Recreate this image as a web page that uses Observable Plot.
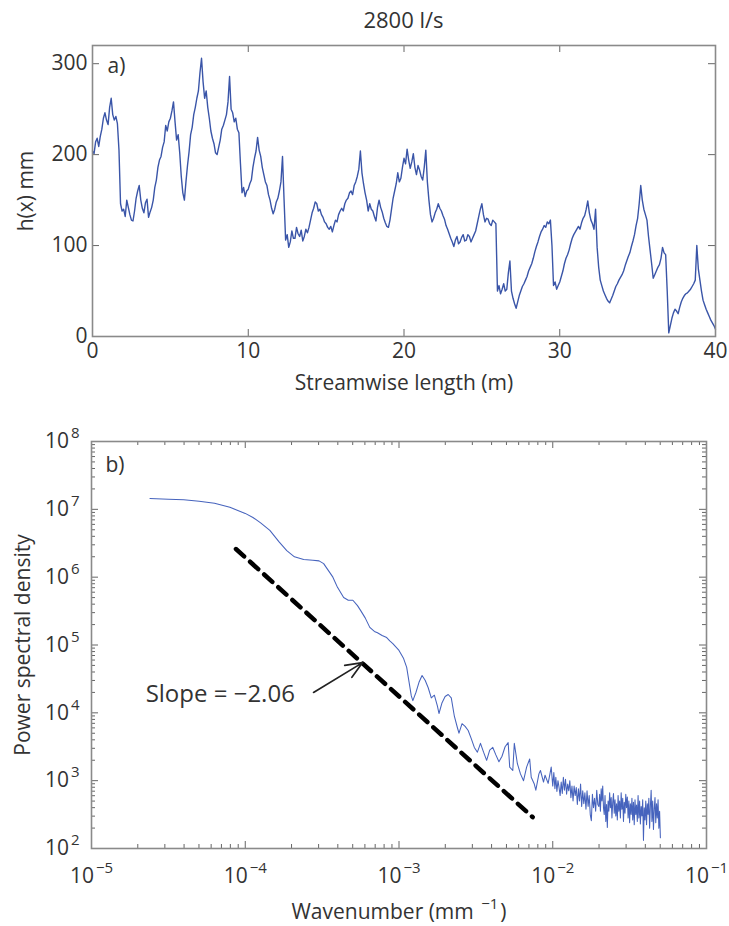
<!DOCTYPE html>
<html>
<head>
<meta charset="utf-8">
<script src="https://cdn.jsdelivr.net/npm/d3@7"></script>
<script src="https://cdn.jsdelivr.net/npm/@observablehq/plot@0.6"></script>
<style>
  html, body { margin: 0; padding: 0; background: #fff; }
  #wrap { position: relative; width: 729px; height: 926px; font-family: "Open Sans", sans-serif; color: #333; overflow: hidden; }
  #title { position: absolute; top: 4px; left: 92px; width: 623px; text-align: center; font-size: 22px; line-height: 30px; }
  #wrap svg { position: absolute; left: 0; }
</style>
</head>
<body>
<div id="wrap">
  <div id="title"></div>
</div>
<script>
// ---------- Panel a) : bed profile h(x) ----------
const titleText = "2800 l/s";
const profileDist = [
  0.0,0.1,0.2,0.3,0.4,0.5,0.6,0.7,0.8,0.9,1.0,1.1,1.2,1.3,1.4,1.5,1.6,1.7,1.8,1.9,
  2.0,2.1,2.2,2.3,2.4,2.5,2.6,2.7,2.8,2.9,3.0,3.1,3.2,3.3,3.4,3.5,3.6,3.7,3.8,3.9,
  4.0,4.1,4.2,4.3,4.4,4.5,4.6,4.7,4.8,4.9,5.0,5.1,5.2,5.3,5.4,5.5,5.6,5.7,5.8,5.9,
  6.0,6.1,6.2,6.3,6.4,6.5,6.6,6.7,6.8,6.9,7.0,7.1,7.2,7.3,7.4,7.5,7.6,7.7,7.8,7.9,
  8.0,8.1,8.2,8.3,8.4,8.5,8.6,8.7,8.8,8.9,9.0,9.1,9.2,9.3,9.4,9.5,9.6,9.7,9.8,9.9,
  10.0,10.1,10.2,10.3,10.4,10.5,10.6,10.7,10.8,10.9,11.0,11.1,11.2,11.3,11.4,11.5,11.6,11.7,11.8,11.9,
  12.0,12.1,12.2,12.3,12.4,12.5,12.6,12.7,12.8,12.9,13.0,13.1,13.2,13.3,13.4,13.5,13.6,13.7,13.8,13.9,
  14.0,14.1,14.2,14.3,14.4,14.5,14.6,14.7,14.8,14.9,15.0,15.1,15.2,15.3,15.4,15.5,15.6,15.7,15.8,15.9,
  16.0,16.1,16.2,16.3,16.4,16.5,16.6,16.7,16.8,16.9,17.0,17.1,17.2,17.3,17.4,17.5,17.6,17.7,17.8,17.9,
  18.0,18.1,18.2,18.3,18.4,18.5,18.6,18.7,18.8,18.9,19.0,19.1,19.2,19.3,19.4,19.5,19.6,19.7,19.8,19.9,
  20.0,20.1,20.2,20.3,20.4,20.5,20.6,20.7,20.8,20.9,21.0,21.1,21.2,21.3,21.4,21.5,21.6,21.7,21.8,21.9,
  22.0,22.1,22.2,22.3,22.4,22.5,22.6,22.7,22.8,22.9,23.0,23.1,23.2,23.3,23.4,23.5,23.6,23.7,23.8,23.9,
  24.0,24.1,24.2,24.3,24.4,24.5,24.6,24.7,24.8,24.9,25.0,25.1,25.2,25.3,25.4,25.5,25.6,25.7,25.8,25.9,
  26.0,26.1,26.2,26.3,26.4,26.5,26.6,26.7,26.8,26.9,27.0,27.1,27.2,27.3,27.4,27.5,27.6,27.7,27.8,27.9,
  28.0,28.1,28.2,28.3,28.4,28.5,28.6,28.7,28.8,28.9,29.0,29.1,29.2,29.3,29.4,29.5,29.6,29.7,29.8,29.9,
  30.0,30.1,30.2,30.3,30.4,30.5,30.6,30.7,30.8,30.9,31.0,31.1,31.2,31.3,31.4,31.5,31.6,31.7,31.8,31.9,
  32.0,32.1,32.2,32.3,32.4,32.5,32.6,32.7,32.8,32.9,33.0,33.1,33.2,33.3,33.4,33.5,33.6,33.7,33.8,33.9,
  34.0,34.1,34.2,34.3,34.4,34.5,34.6,34.7,34.8,34.9,35.0,35.1,35.2,35.3,35.4,35.5,35.6,35.7,35.8,35.9,
  36.0,36.1,36.2,36.3,36.4,36.5,36.6,36.7,36.8,36.9,37.0,37.1,37.2,37.3,37.4,37.5,37.6,37.7,37.8,37.9,
  38.0,38.1,38.2,38.3,38.4,38.5,38.6,38.7,38.8,38.9,39.0,39.1,39.2,39.3,39.4,39.5,39.6,39.7,39.8,39.9,
  40.0
];
const profileHeight = [
  204,201,214,218,209,220,228,240,246,238,233,252,262,244,238,242,234,205,146,138,
  140,132,150,142,134,128,127,138,152,160,166,150,141,136,147,151,131,137,142,150,
  164,172,186,194,198,208,214,232,226,236,240,248,258,236,216,222,202,176,158,150,
  170,188,203,222,230,244,252,262,270,290,306,280,262,270,252,240,226,218,212,202,
  200,208,216,228,232,238,244,258,286,250,246,236,240,228,224,190,158,164,154,160,
  162,168,172,186,196,204,219,205,198,186,178,170,166,156,150,141,135,140,148,152,
  160,170,198,150,106,112,98,104,116,108,108,120,113,110,117,105,110,118,114,120,
  128,136,141,148,146,138,140,134,131,126,124,120,118,121,115,122,128,126,134,138,
  141,138,146,150,152,158,160,156,166,170,176,184,204,180,168,158,150,138,146,140,
  138,132,127,142,150,142,137,130,125,121,120,128,140,152,160,168,180,170,174,186,
  196,190,206,194,185,192,201,186,178,188,183,176,172,186,205,170,150,134,126,130,
  136,140,146,141,138,133,129,122,118,113,108,104,99,106,110,102,104,109,112,105,
  106,112,110,104,108,112,116,124,132,140,146,134,126,130,129,124,122,128,126,124,
  50,56,47,52,58,50,52,70,83,50,42,36,31,38,45,50,55,58,62,66,
  72,76,80,86,93,99,104,110,115,118,122,120,126,124,128,100,56,60,52,56,
  60,66,72,80,86,90,95,102,108,112,115,118,121,118,125,130,133,140,149,136,
  128,124,118,140,98,76,62,56,50,46,42,39,37,41,45,50,55,58,62,65,
  68,72,78,83,88,92,99,105,112,122,130,146,166,150,140,134,128,110,95,80,
  64,68,72,76,79,86,98,92,90,50,4,12,20,26,30,28,25,32,38,42,
  45,47,48,50,52,55,58,62,100,74,62,50,40,35,30,26,22,18,15,12,
  8
];
const xTicksA = [0, 10, 20, 30, 40];
const yTicksA = [0, 100, 200, 300];

// ---------- Panel b) : power spectral density (read on log axes, stored as log10) ----------
const log10Wavenumber = [
  -4.62,-4.50,-4.40,-4.30,-4.20,-4.10,-4.00,-3.95,-3.90,-3.84,
  -3.78,-3.73,-3.68,-3.62,-3.56,-3.52,-3.49,-3.46,-3.43,-3.40,
  -3.36,-3.33,-3.30,-3.27,-3.25,-3.22,-3.19,-3.16,-3.14,-3.11,
  -3.08,-3.06,-3.04,-3.00,-2.97,-2.95,-2.92,-2.91,-2.89,-2.87,
  -2.85,-2.83,-2.81,-2.79,-2.77,-2.75,-2.74,-2.72,-2.70,-2.68,
  -2.66,-2.64,-2.62,-2.61,-2.59,-2.57,-2.55,-2.53,-2.51,-2.49,
  -2.47,-2.45,-2.43,-2.41,-2.39,-2.37,-2.35,-2.33,-2.31,-2.29,
  -2.28,-2.26,-2.25,-2.23,-2.21,-2.19,-2.17,-2.15,-2.14,-2.12,
  -2.11,-2.09,-2.08,-2.06,-2.05,-2.03,-2.01,
  -2.000,-1.993,-1.986,-1.980,-1.973,-1.966,-1.959,-1.952,-1.945,-1.938,
  -1.931,-1.924,-1.917,-1.910,-1.903,-1.896,-1.889,-1.882,-1.875,-1.868,
  -1.861,-1.854,-1.847,-1.840,-1.833,-1.826,-1.819,-1.812,-1.805,-1.798,
  -1.791,-1.784,-1.777,-1.770,-1.763,-1.756,-1.749,-1.742,-1.735,-1.728,
  -1.721,-1.714,-1.707,
  -1.700,-1.695,-1.690,-1.685,-1.680,-1.675,-1.670,-1.665,-1.660,-1.655,
  -1.650,-1.645,-1.640,-1.635,-1.630,-1.625,-1.620,-1.615,-1.610,-1.605,
  -1.600,-1.595,-1.590,-1.585,-1.580,-1.575,-1.570,-1.565,-1.560,-1.555,
  -1.550,-1.545,-1.540,-1.535,-1.530,-1.525,-1.520,-1.515,-1.510,-1.505,
  -1.500,-1.495,-1.490,-1.485,-1.480,-1.475,-1.470,-1.465,-1.460,-1.455,
  -1.450,-1.445,-1.440,-1.435,-1.430,-1.425,-1.420,-1.415,-1.410,-1.405,
  -1.400,-1.395,-1.390,-1.385,-1.380,-1.375,-1.370,-1.365,-1.360,-1.355,
  -1.350,-1.345,-1.340,-1.335,-1.330,-1.325,-1.320,-1.315,-1.310,-1.305,
  -1.300
];
const log10Psd = [
  7.16,7.15,7.14,7.12,7.09,7.03,6.94,6.88,6.80,6.69,
  6.52,6.39,6.30,6.26,6.25,6.24,6.20,6.10,6.00,5.85,
  5.70,5.66,5.66,5.58,5.51,5.40,5.26,5.20,5.18,5.14,
  5.11,5.06,5.02,4.92,4.80,4.67,4.25,4.18,4.30,4.45,
  4.55,4.48,4.37,4.22,4.26,4.10,3.99,4.15,4.24,4.27,
  4.22,3.95,3.78,3.70,3.84,3.80,3.74,3.62,3.49,3.42,
  3.55,3.42,3.30,3.45,3.49,3.38,3.28,3.36,3.50,3.56,
  3.20,3.15,3.55,3.25,3.10,3.00,3.20,3.32,3.05,2.95,
  2.86,3.10,3.15,2.98,3.08,2.96,3.20,
  2.92,3.12,2.88,3.05,2.84,3.00,2.90,2.78,2.98,2.81,
  3.05,2.86,3.02,2.80,2.95,2.85,3.00,2.75,2.92,2.70,
  2.92,2.78,2.90,2.65,2.88,2.70,2.95,2.62,2.85,2.66,
  2.82,2.58,2.85,2.62,2.78,2.50,2.41,2.80,2.60,2.74,
  2.55,2.86,2.65,
  2.62,2.80,2.55,2.88,2.70,2.92,2.60,2.50,2.78,2.40,
  2.65,2.31,2.70,2.55,2.82,2.60,2.75,2.45,2.68,2.81,
  2.52,2.72,2.48,2.66,2.42,2.78,2.55,2.70,2.45,2.82,
  2.58,2.74,2.40,2.68,2.52,2.80,2.60,2.76,2.45,2.70,
  2.38,2.66,2.50,2.74,2.42,2.68,2.35,2.72,2.50,2.64,
  2.40,2.78,2.45,2.70,2.36,2.62,2.48,2.72,2.12,2.60,
  2.42,2.70,2.35,2.66,2.50,2.74,2.30,2.62,2.86,2.40,
  2.70,2.28,2.58,2.75,2.38,2.66,2.45,2.72,2.30,2.55,
  2.16
];
// fitted power law (slope -2.06): end points, annotation and arrow
const fitWavenumber = [8.7e-5, 7.4e-3];
const fitPsd = [2.6e6, 2.9e2];
const slopeLabel = "Slope = \u22122.06";
const slopeLabelAt = [2.25e-5, 1.9e4];
const arrowFrom = [2.78e-4, 2.0e4];
const arrowTo = [5.8e-4, 5.5e4];
const xTicksB = [1e-5, 1e-4, 1e-3, 1e-2, 1e-1];
const yTicksB = [1e2, 1e3, 1e4, 1e5, 1e6, 1e7, 1e8];

// ---------- helpers ----------
const FONT = '"Open Sans", sans-serif';
const TXT = "#333";
const FRAME = "#8a8a8a";
const TICKFS = 21;
const minorOf = decades => decades.slice(0, -1).flatMap(d => [2,3,4,5,6,7,8,9].map(m => m * d));
const supExp = d => { const e = Math.round(Math.log10(d)); return "10^{" + (e < 0 ? "\u2212" + (-e) : e) + "}"; };

function boxTicks(xs, ys, fw, fh, len) {
  return [
    Plot.tickX(xs, {x: d => d, insetTop: fh - len, stroke: "#666", strokeWidth: 1}),
    Plot.tickX(xs, {x: d => d, insetBottom: fh - len, stroke: "#666", strokeWidth: 1}),
    Plot.tickY(ys, {y: d => d, insetRight: fw - len, stroke: "#666", strokeWidth: 1}),
    Plot.tickY(ys, {y: d => d, insetLeft: fw - len, stroke: "#666", strokeWidth: 1})
  ];
}

function supify(svg) {
  const ns = "http://www.w3.org/2000/svg";
  svg.querySelectorAll("text").forEach(t => {
    const s = t.textContent;
    const m = s.match(/^(.*)\^\{(.*?)\}(.*)$/);
    if (!m) return;
    while (t.firstChild) t.removeChild(t.firstChild);
    const a = document.createElementNS(ns, "tspan"); a.textContent = m[1]; t.appendChild(a);
    const b = document.createElementNS(ns, "tspan"); b.textContent = m[2];
    b.setAttribute("dy", "-10"); b.setAttribute("dx", "2"); b.setAttribute("font-size", "15");
    t.appendChild(b);
    if (m[3]) { const c = document.createElementNS(ns, "tspan"); c.textContent = m[3]; c.setAttribute("dy", "10"); c.setAttribute("dx", "2"); t.appendChild(c); }
  });
}

const wrap = document.getElementById("wrap");
document.getElementById("title").textContent = titleText;

// ---------- plot a ----------
const A = {w: 729, h: 370, mt: 15, mb: 64, ml: 92, mr: 14};
const fwA = A.w - A.ml - A.mr, fhA = A.h - A.mt - A.mb;
const pa = Plot.plot({
  width: A.w, height: A.h,
  marginTop: A.mt, marginBottom: A.mb, marginLeft: A.ml, marginRight: A.mr,
  style: {fontFamily: FONT, fontSize: TICKFS + "px", color: TXT, background: "white", overflow: "visible"},
  x: {domain: [0, 40]},
  y: {domain: [0, 320]},
  marks: [
    Plot.line(profileHeight, {x: profileDist, y: profileHeight, stroke: "#3a55a8", strokeWidth: 1.4, strokeLinejoin: "round"}),
    ...boxTicks(xTicksA, yTicksA, fwA, fhA, 7),
    Plot.frame({stroke: FRAME, strokeWidth: 1.6}),
    Plot.axisX({ticks: xTicksA, tickSize: 0, tickPadding: 7, fontSize: TICKFS, color: TXT,
      label: "Streamwise length (m)", labelAnchor: "center", labelOffset: 53, labelArrow: "none"}),
    Plot.axisY({ticks: yTicksA, tickSize: 0, tickPadding: 5, fontSize: TICKFS, color: TXT,
      label: "h(x) mm", labelAnchor: "center", labelOffset: 74, labelArrow: "none"}),
    Plot.text(["a)"], {frameAnchor: "top-left", dx: 15, dy: 21, fontSize: TICKFS, textAnchor: "start", lineAnchor: "middle", fill: TXT})
  ]
});
pa.style.top = "30px";
wrap.appendChild(pa);

// ---------- plot b ----------
const B = {w: 729, h: 526, mt: 41, mb: 78, ml: 91, mr: 23};
const fwB = B.w - B.ml - B.mr, fhB = B.h - B.mt - B.mb;
const pb = Plot.plot({
  width: B.w, height: B.h,
  marginTop: B.mt, marginBottom: B.mb, marginLeft: B.ml, marginRight: B.mr,
  style: {fontFamily: FONT, fontSize: TICKFS + "px", color: TXT, background: "white", overflow: "visible"},
  x: {type: "log", domain: [1e-5, 1e-1]},
  y: {type: "log", domain: [1e2, 1e8]},
  marks: [
    Plot.line(log10Psd, {x: log10Wavenumber.map(v => 10 ** v), y: log10Psd.map(v => 10 ** v),
      stroke: "#4663bd", strokeWidth: 1.05, strokeLinejoin: "round"}),
    Plot.line(fitPsd, {x: fitWavenumber, y: fitPsd, stroke: "#000", strokeWidth: 4.5, strokeDasharray: "11 8"}),
    Plot.arrow([0], {x1: arrowFrom[0], y1: arrowFrom[1], x2: arrowTo[0], y2: arrowTo[1],
      stroke: "#222", strokeWidth: 1.7, headLength: 16, headAngle: 45}),
    Plot.text([slopeLabel], {x: slopeLabelAt[0], y: slopeLabelAt[1], textAnchor: "start", fontSize: 24, fill: TXT}),
    ...boxTicks(minorOf(xTicksB), minorOf(yTicksB), fwB, fhB, 4),
    ...boxTicks(xTicksB, yTicksB, fwB, fhB, 7),
    Plot.frame({stroke: FRAME, strokeWidth: 1.6}),
    Plot.axisX({ticks: xTicksB, tickSize: 0, tickPadding: 20, fontSize: TICKFS, color: TXT, tickFormat: supExp,
      label: "Wavenumber (mm ^{\u22121})", labelAnchor: "center", labelOffset: 70, labelArrow: "none"}),
    Plot.axisY({ticks: yTicksB, tickSize: 0, tickPadding: 12, fontSize: TICKFS, color: TXT, tickFormat: supExp,
      label: "Power spectral density", labelAnchor: "center", labelOffset: 76, labelArrow: "none"}),
    Plot.text(["b)"], {frameAnchor: "top-left", dx: 14, dy: 24, fontSize: TICKFS, textAnchor: "start", lineAnchor: "middle", fill: TXT})
  ]
});
pb.style.top = "400px";
wrap.appendChild(pb);
supify(pa); supify(pb);
</script>
</body>
</html>
